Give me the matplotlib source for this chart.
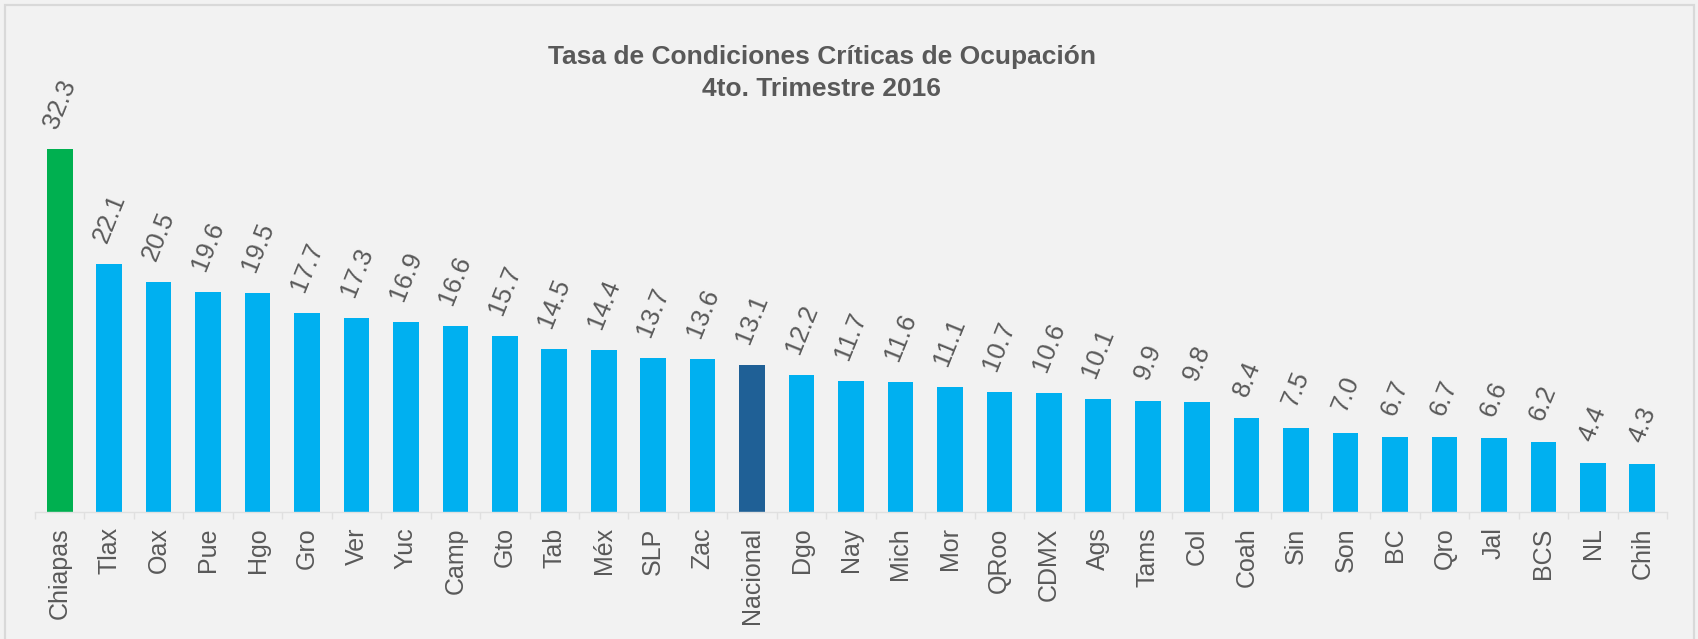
import numpy as np
import matplotlib
matplotlib.use("Agg")
import matplotlib.pyplot as plt
from matplotlib.patches import Rectangle

plt.rcParams['font.family'] = ['Liberation Sans', 'DejaVu Sans']

# data
estados = ["Chiapas", "Tlax", "Oax", "Pue", "Hgo", "Gro", "Ver", "Yuc", "Camp", "Gto",
           "Tab", "Méx", "SLP", "Zac", "Nacional", "Dgo", "Nay", "Mich", "Mor", "QRoo",
           "CDMX", "Ags", "Tams", "Col", "Coah", "Sin", "Son", "BC", "Qro", "Jal",
           "BCS", "NL", "Chih"]
tasa = [32.3, 22.1, 20.5, 19.6, 19.5, 17.7, 17.3, 16.9, 16.6, 15.7,
        14.5, 14.4, 13.7, 13.6, 13.1, 12.2, 11.7, 11.6, 11.1, 10.7,
        10.6, 10.1, 9.9, 9.8, 8.4, 7.5, 7.0, 6.7, 6.7, 6.6,
        6.2, 4.4, 4.3]
titulo = "Tasa de Condiciones Críticas de Ocupación\n4to. Trimestre 2016"

bg = "#F2F2F2"
txt = "#595959"

colores = []
for e in estados:
    if e == "Chiapas":
        colores.append("#00B050")
    elif e == "Nacional":
        colores.append("#1F6096")
    else:
        colores.append("#00B0F0")

W, H = 1698, 639
fig = plt.figure(figsize=(W / 100, H / 100), dpi=100, facecolor=bg)

# borde del grafico
fig.patches.append(Rectangle((5 / W, -0.05), (1694 - 5) / W, 1.05 - 5 / H,
                             transform=fig.transFigure, fill=False,
                             edgecolor="#D9D9D9", linewidth=1.6))

n = len(estados)
left = 35 / W
right = 1667 / W
bottom = (H - 512) / H
ax = fig.add_axes([left, bottom, right - left, 449 / H])
ax.set_facecolor(bg)

x = np.arange(n)
ax.bar(x, tasa, width=0.52, color=colores)
ax.set_xlim(-0.5, n - 0.5)
ax.set_ylim(0, 40)

for xi, v in zip(x, tasa):
    ax.annotate(f"{v:.1f}", (xi, v), xytext=(0, 13), textcoords="offset points",
                ha="center", va="bottom", rotation=68, fontsize=18.5, color=txt)

ax.set_xticks(x)
ax.set_xticklabels(estados, rotation=90, fontsize=18, color=txt)
ax.tick_params(axis="x", length=0, pad=11)
ax.set_xticks(np.arange(n + 1) - 0.5, minor=True)
ax.tick_params(axis="x", which="minor", length=5, color="#E0E0E0", width=1)
ax.set_yticks([])
for s in ["top", "left", "right"]:
    ax.spines[s].set_visible(False)
ax.spines["bottom"].set_color("#E0E0E0")
ax.spines["bottom"].set_linewidth(1)

fig.text(822 / W, 1 - 73 / H, titulo, ha="center", va="center", fontsize=19,
         fontweight="bold", color=txt, linespacing=1.4)

fig.savefig("out.png", dpi=100, facecolor=bg)
